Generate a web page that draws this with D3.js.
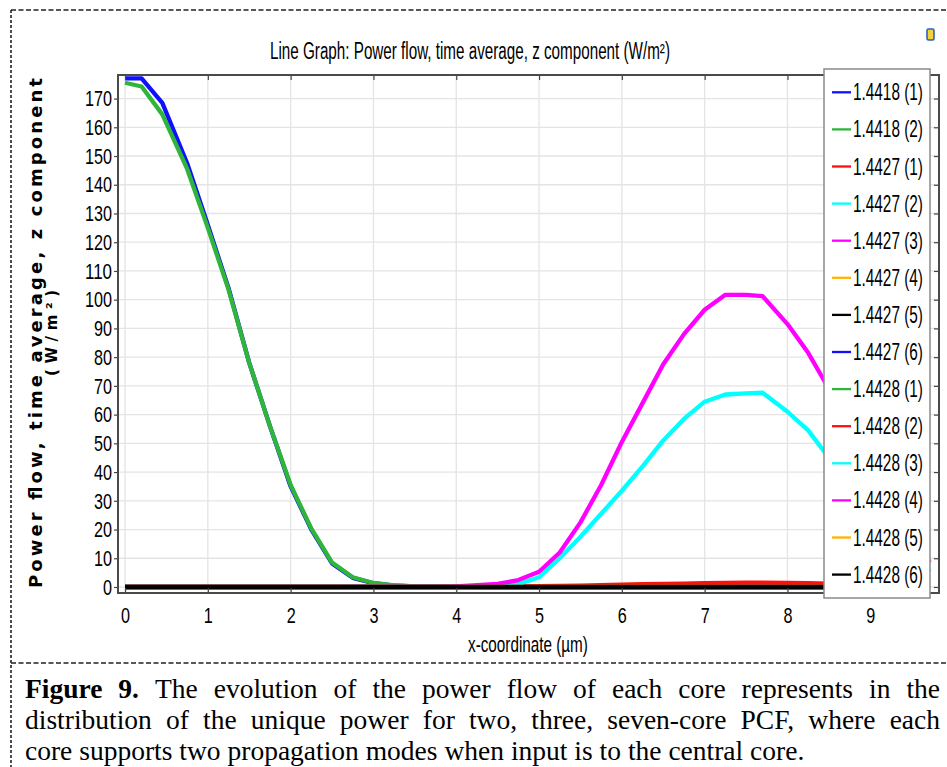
<!DOCTYPE html>
<html>
<head>
<meta charset="utf-8">
<script src="https://cdn.jsdelivr.net/npm/d3@7"></script>
<style>
  body { margin: 0; background: #fff; }
  svg { display: block; }
</style>
</head>
<body>
<div id="chart"></div>
<script>
// ---- data ----
const xCoord = [0, 0.2, 0.45, 0.75, 1, 1.25, 1.5, 1.75, 2, 2.25, 2.5, 2.75, 3, 3.25, 3.5, 3.75,
  4, 4.25, 4.5, 4.75, 5, 5.25, 5.5, 5.75, 6, 6.25, 6.5, 6.75, 7, 7.25, 7.5, 7.7, 8, 8.25, 8.5, 8.75,
  9, 9.25, 9.5, 9.72];

const legendNames = ["1.4418 (1)", "1.4418 (2)", "1.4427 (1)", "1.4427 (2)", "1.4427 (3)", "1.4427 (4)",
  "1.4427 (5)", "1.4427 (6)", "1.4428 (1)", "1.4428 (2)", "1.4428 (3)", "1.4428 (4)", "1.4428 (5)", "1.4428 (6)"];
const seriesColors = ["#1010ff", "#2fb53a", "#ff1010", "#00ffff", "#ff00ff", "#ffb400", "#000000",
  "#1010ff", "#2fb53a", "#ff1010", "#00ffff", "#ff00ff", "#ffb400", "#000000"];

const p1418_1 = [177, 177, 168.5, 147.5, 126, 104, 78, 56, 35, 20, 8.2, 3.2, 1.3, 0.5, 0.2, 0.1,
  0.05, 0, 0, 0, 0, 0, 0, 0, 0, 0, 0, 0, 0, 0, 0, 0, 0, 0, 0, 0, 0, 0, 0, 0];
const p1418_2 = [175.5, 174.2, 164.5, 145.5, 125, 103.5, 78, 56, 35.5, 20.3, 8.5, 3.4, 1.4, 0.6, 0.25, 0.1,
  0.05, 0, 0, 0, 0, 0, 0, 0, 0, 0, 0, 0, 0, 0, 0, 0, 0, 0, 0, 0, 0, 0, 0, 0];
const flatZero = [0, 0, 0, 0, 0, 0, 0, 0, 0, 0, 0, 0, 0, 0, 0, 0, 0, 0, 0, 0,
  0, 0, 0, 0, 0, 0, 0, 0, 0, 0, 0, 0, 0, 0, 0, 0, 0, 0, 0, 0];
const p1428_2 = [0.05, 0.05, 0.05, 0.05, 0.05, 0.05, 0.05, 0.05, 0.05, 0.05, 0.05, 0.05, 0.05, 0.05, 0.05, 0.05,
  0.05, 0.08, 0.12, 0.2, 0.3, 0.4, 0.5, 0.65, 0.8, 0.95, 1.1, 1.2, 1.35, 1.45, 1.5, 1.5, 1.4, 1.3, 1.15, 1.0,
  0.85, 0.7, 0.55, 0.45];
const p1428_3 = [0, 0, 0, 0, 0, 0, 0, 0, 0, 0, 0, 0, 0, 0, 0, 0, 0, 0,
  0.3, 1.0, 3.4, 10, 17.5, 25.5, 33.5, 42, 51, 58.5, 64.5, 67, 67.4, 67.6, 61, 54.5, 45, 37, 28, 19.5, 11.5, 5.2];
const p1428_4 = [0, 0, 0, 0, 0, 0, 0, 0, 0, 0, 0, 0, 0, 0, 0, 0,
  0.2, 0.6, 1.1, 2.4, 5.3, 12, 22.5, 35.5, 50.5, 64, 77.5, 88, 96.5, 101.7, 101.7, 101.2, 91.5, 81.5, 69, 56,
  42, 28.5, 17, 8.5];

const seriesValues = [p1418_1, p1418_2, flatZero, flatZero, flatZero, flatZero, flatZero,
  flatZero, flatZero, p1428_2, p1428_3, p1428_4, flatZero, flatZero];

const xTickValues = [0, 1, 2, 3, 4, 5, 6, 7, 8, 9];
const yTickValues = [0, 10, 20, 30, 40, 50, 60, 70, 80, 90, 100, 110, 120, 130, 140, 150, 160, 170];

const titleText = "Line Graph: Power flow, time average, z component (W/m\u00B2)";
const xLabelText = "x-coordinate (\u00B5m)";
const yLabelText = "Power flow, time average, z component";
const yUnitText = "(W/m\u00B2)";
const captionLines = [
  "Figure 9. The evolution of the power flow of each core represents in the",
  "distribution of the unique power for two, three, seven-core PCF, where each",
  "core supports two propagation modes when input is to the central core."
];

// ---- layout ----
const W = 947, H = 767;
const plot = { left: 118, right: 939, top: 75, bottom: 593 };
const condensed = "'Liberation Sans', Arial, sans-serif";

const svg = d3.select("#chart").append("svg")
  .attr("width", W)
  .attr("height", H);

// page frame: dashed outline and separator
svg.append("line").attr("x1", 11).attr("x2", W).attr("y1", 10).attr("y2", 10)
  .attr("stroke", "#222").attr("stroke-width", 1.3).attr("stroke-dasharray", "5,2.5");
svg.append("line").attr("x1", 11).attr("x2", 11).attr("y1", 10).attr("y2", H)
  .attr("stroke", "#222").attr("stroke-width", 1.6).attr("stroke-dasharray", "3,2");
svg.append("line").attr("x1", 11).attr("x2", W).attr("y1", 663).attr("y2", 663)
  .attr("stroke", "#222").attr("stroke-width", 1.3).attr("stroke-dasharray", "5,2.5");

// scales
const x = d3.scaleLinear().domain([-0.085, 9.83]).range([plot.left, plot.right]);
const y = d3.scaleLinear().domain([-2.09, 178.2]).range([plot.bottom, plot.top]);

// grid
const grid = svg.append("g").attr("class", "grid");
grid.selectAll(".gx").data(xTickValues).enter().append("line")
  .attr("x1", d => x(d)).attr("x2", d => x(d))
  .attr("y1", plot.top).attr("y2", plot.bottom)
  .attr("stroke", "#e4e4e4").attr("stroke-width", 1.3);
grid.selectAll(".gy").data(yTickValues).enter().append("line")
  .attr("x1", plot.left).attr("x2", plot.right)
  .attr("y1", d => y(d)).attr("y2", d => y(d))
  .attr("stroke", "#e4e4e4").attr("stroke-width", 1.3);

// clip
svg.append("clipPath").attr("id", "plotClip").append("rect")
  .attr("x", plot.left).attr("y", plot.top)
  .attr("width", plot.right - plot.left).attr("height", plot.bottom - plot.top);

// lines
const line = d3.line()
  .x((d, i) => x(xCoord[i]))
  .y(d => y(d));

svg.append("g").attr("clip-path", "url(#plotClip)")
  .selectAll("path")
  .data(seriesValues)
  .enter().append("path")
  .attr("fill", "none")
  .attr("stroke", (d, i) => seriesColors[i])
  .attr("stroke-width", 4.3)
  .attr("stroke-linejoin", "round")
  .attr("d", line);

// narrow text helper (the figure is horizontally squeezed)
function squeeze(sel, perChar) {
  sel.each(function () {
    const t = d3.select(this);
    t.attr("textLength", t.text().length * perChar).attr("lengthAdjust", "spacingAndGlyphs");
  });
}

// squeeze a free text to a given width with a horizontal scale
function narrowText(px, py, str, size, width) {
  const t = svg.append("text")
    .style("font-family", condensed).style("font-size", size + "px")
    .text(str);
  const s = width / t.node().getComputedTextLength();
  t.attr("transform", `translate(${px},${py}) scale(${s},1)`);
  return t;
}

// axes
const leftAxis = svg.append("g")
  .attr("transform", `translate(${plot.left},0)`)
  .call(d3.axisLeft(y).tickValues(yTickValues).tickSize(4).tickPadding(2));
const bottomAxis = svg.append("g")
  .attr("transform", `translate(0,${plot.bottom})`)
  .call(d3.axisBottom(x).tickValues(xTickValues).tickSize(-5).tickPadding(14));
svg.append("g")
  .attr("transform", `translate(0,${plot.top})`)
  .call(d3.axisBottom(x).tickValues(xTickValues).tickSize(5).tickFormat(""));
svg.append("g")
  .attr("transform", `translate(${plot.right},0)`)
  .call(d3.axisLeft(y).tickValues(yTickValues).tickSize(5).tickFormat(""));

svg.selectAll(".domain").remove();
svg.selectAll(".tick line").attr("stroke", "#444").attr("stroke-width", 1.2);
[leftAxis, bottomAxis].forEach(a => a.selectAll("text")
  .attr("fill", "#000")
  .style("font-family", condensed)
  .style("font-size", "22.5px"));
squeeze(leftAxis.selectAll("text"), 9);
squeeze(bottomAxis.selectAll("text"), 9);

// frame
svg.append("rect")
  .attr("x", plot.left).attr("y", plot.top)
  .attr("width", plot.right - plot.left).attr("height", plot.bottom - plot.top)
  .attr("fill", "none").attr("stroke", "#4a4a4a").attr("stroke-width", 2);

// title and x label
narrowText(270, 59, titleText, 23, 400);
narrowText(468, 652, xLabelText, 22, 120);

// y label (two lines, rotated)
svg.append("text")
  .attr("transform", "translate(42,333) rotate(-90)")
  .attr("text-anchor", "middle")
  .style("font-family", "'DejaVu Sans', sans-serif").style("font-size", "18px")
  .style("font-weight", "bold")
  .attr("textLength", 510).attr("lengthAdjust", "spacing")
  .text(yLabelText);
svg.append("text")
  .attr("transform", "translate(57,333) rotate(-90)")
  .attr("text-anchor", "middle")
  .style("font-family", "'DejaVu Sans', sans-serif").style("font-size", "15px")
  .style("font-weight", "bold")
  .attr("textLength", 86).attr("lengthAdjust", "spacing")
  .text(yUnitText);

// legend
const legend = svg.append("g").attr("class", "legend");
legend.append("rect")
  .attr("x", 824).attr("y", 69).attr("width", 106).attr("height", 529)
  .attr("fill", "#fff").attr("stroke", "#8a8a8a").attr("stroke-width", 1.5);
legendNames.forEach((name, i) => {
  const cy = 92.3 + i * 37.1;
  legend.append("line")
    .attr("x1", 832).attr("x2", 851).attr("y1", cy).attr("y2", cy)
    .attr("stroke", seriesColors[i]).attr("stroke-width", 2.3);
  narrowText(853, cy + 8, name, 23, 70);
});

// small toolbar icon at top right
svg.append("rect").attr("x", 927).attr("y", 29).attr("width", 7).attr("height", 11).attr("rx", 1.5)
  .attr("fill", "#f3d23a").attr("stroke", "#2f5fc8").attr("stroke-width", 1.6);

// caption, justified word by word
const captionFont = "'Liberation Serif', 'Times New Roman', serif";
captionLines.forEach((lineText, i) => {
  const words = lineText.split(" ");
  const g = svg.append("g");
  const texts = words.map((w, j) => g.append("text")
    .attr("y", 698 + i * 31)
    .style("font-family", captionFont)
    .style("font-size", "27.5px")
    .style("font-weight", i === 0 && j < 2 ? "bold" : "normal")
    .text(w));
  const widths = texts.map(t => t.node().getComputedTextLength());
  const gap = i < 2 ? (940 - 25 - d3.sum(widths)) / (words.length - 1) : 6.9;
  let cx = 25;
  texts.forEach((t, j) => { t.attr("x", cx); cx += widths[j] + gap; });
});
</script>
</body>
</html>
